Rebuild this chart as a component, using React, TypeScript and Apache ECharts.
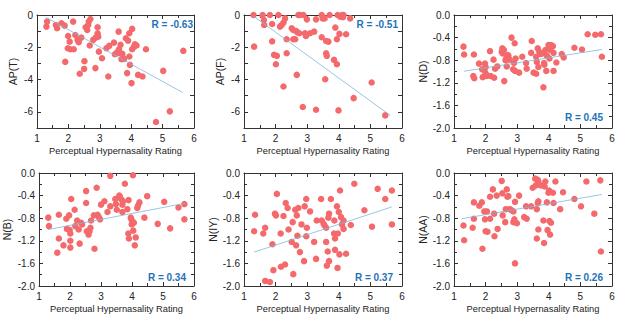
import React, { useEffect, useRef } from 'react';
import * as echarts from 'echarts';

const xAxisTitle = 'Perceptual Hypernasality Rating';
const panelNames = ['AP(T)', 'AP(F)', 'N(D)', 'N(B)', 'N(IY)', 'N(AA)'];
const rLabels = ['R = -0.63', 'R = -0.51', 'R = 0.45', 'R = 0.34', 'R = 0.37', 'R = 0.26'];
const xTickValues = [1, 2, 3, 4, 5, 6];

const apT: number[][] = [
  [1.30, -0.72], [1.32, -0.41], [1.60, -0.62], [1.64, -0.82], [1.78, -0.51], [1.88, -0.66],
  [1.99, -1.30], [2.04, -1.65], [1.98, -2.06], [2.06, -2.12], [1.90, -2.90], [2.15, -0.41],
  [2.17, -2.12], [2.22, -1.24], [2.29, -1.54], [2.33, -1.69], [2.41, -1.40], [2.36, -3.64],
  [2.51, -2.86], [2.50, -3.34], [2.55, -0.76], [2.60, -0.93], [2.63, -0.62], [2.65, -0.41],
  [2.70, -0.25], [2.68, -1.89], [2.79, -1.54], [2.87, -1.40], [2.86, -3.29], [2.93, -0.76],
  [2.93, -1.13], [2.95, -1.34], [2.97, -2.27], [3.07, -2.68], [3.27, -3.81], [3.21, -2.06],
  [3.30, -1.91], [3.45, -1.71], [3.48, -2.43], [3.55, -2.31], [3.60, -1.03], [3.61, -2.12],
  [3.64, -2.37], [3.66, -1.85], [3.69, -2.74], [3.72, -2.41], [3.77, -2.72], [3.83, -1.44],
  [3.87, -3.60], [3.90, -1.59], [3.94, -1.13], [3.94, -2.57], [3.96, -3.09], [4.01, -4.22],
  [4.03, -0.86], [4.03, -2.12], [4.09, -1.96], [4.12, -1.81], [4.17, -1.89], [4.22, -3.71],
  [4.36, -3.81], [4.47, -2.12], [4.79, -6.63], [5.02, -3.46], [5.23, -5.97], [5.66, -2.22],
];
const apF: number[][] = [
  [1.30, 0], [1.32, -1.96], [1.59, 0], [1.63, -0.31], [1.64, -0.62], [1.82, 0], [1.89, -0.56],
  [1.89, -1.63], [1.95, -2.47], [2.04, -2.53], [2.01, -3.05], [2.09, 0], [2.14, -0.72],
  [2.19, -0.62], [2.25, -0.47], [2.30, -0.21], [2.35, -1.50], [2.35, -2.37], [2.25, -4.43],
  [2.51, -0.82], [2.56, -0.93], [2.56, -1.50], [2.62, -1.50], [2.65, -0.99], [2.69, -1.07],
  [2.75, -1.13], [2.67, -3.71], [2.72, 0], [2.77, 0], [2.88, 0], [2.86, -5.70], [2.93, -1.13],
  [2.96, -1.30], [2.99, -0.27], [3.09, -1.13], [3.22, -1.03], [3.28, -0.27], [3.28, -5.87],
  [3.46, 0], [3.49, -0.21], [3.46, -1.38], [3.55, -0.21], [3.57, -3.98], [3.60, -1.61],
  [3.60, -2.37], [3.62, -2.53], [3.67, -1.65], [3.71, 0], [3.85, -2.78], [3.89, -0.78],
  [3.94, -1.50], [3.96, 0], [3.94, -3.05], [4.02, -1.17], [3.99, -5.91], [4.04, -0.10],
  [4.10, 0], [4.13, -0.14], [4.15, 0], [4.23, -1.19], [4.36, -0.21], [4.47, -5.15],
  [5.04, -4.18], [5.47, -6.22],
];
const nD: number[][] = [
  [1.30, -0.56], [1.32, -0.70], [1.63, -0.70], [1.61, -1.08], [1.64, -1.12], [1.79, -0.86],
  [1.89, -0.96], [1.91, -1.10], [1.96, -0.98], [1.98, -0.86], [2.00, -0.92], [2.01, -1.04],
  [2.04, -1.08], [2.14, -0.64], [2.16, -1.08], [2.25, -0.79], [2.27, -1.11], [2.30, -0.95],
  [2.37, -0.91], [2.51, -0.65], [2.53, -0.59], [2.54, -0.68], [2.58, -0.62], [2.59, -1.17],
  [2.63, -0.80], [2.65, -0.77], [2.67, -0.91], [2.70, -0.71], [2.72, -0.72], [2.76, -0.79],
  [2.82, -0.40], [2.87, -0.96], [2.90, -0.85], [2.92, -0.50], [2.93, -0.99], [2.95, -0.77],
  [3.06, -1.02], [3.16, -0.74], [3.28, -0.85], [3.30, -0.95], [3.44, -0.67], [3.46, -0.46],
  [3.52, -1.02], [3.60, -1.04], [3.60, -0.74], [3.62, -0.83], [3.65, -0.59], [3.67, -0.92],
  [3.70, -0.65], [3.74, -0.69], [3.79, -0.68], [3.85, -0.85], [3.86, -0.88], [3.83, -1.28],
  [3.89, -0.62], [3.92, -0.99], [3.94, -0.72], [3.99, -0.53], [4.02, -0.77], [4.04, -0.62],
  [4.07, -0.53], [4.13, -0.55], [4.15, -0.67], [4.15, -0.99], [4.24, -0.84], [4.41, -0.69],
  [4.47, -0.75], [4.81, -0.58], [5.05, -0.61], [5.23, -0.34], [5.47, -0.35], [5.65, -0.34],
  [5.68, -0.74],
];
const nB: number[][] = [
  [1.30, -0.79], [1.32, -0.94], [1.59, -1.41], [1.64, -1.16], [1.64, -0.74], [1.79, -1.28],
  [1.88, -0.81], [1.90, -0.99], [1.97, -0.75], [1.99, -1.01], [2.01, -1.07], [2.01, -1.32],
  [2.01, -1.20], [2.04, -0.46], [2.15, -0.65], [2.17, -0.94], [2.23, -0.84], [2.28, -1.00],
  [2.31, -1.25], [2.36, -0.88], [2.39, -0.91], [2.52, -0.32], [2.52, -0.53], [2.54, -1.03],
  [2.60, -1.09], [2.63, -1.03], [2.66, -0.97], [2.68, -0.84], [2.77, -0.75], [2.79, -1.34],
  [2.86, -0.26], [2.89, -0.74], [2.93, -0.78], [2.97, -0.82], [3.00, -0.56], [3.11, -0.50],
  [3.21, -0.69], [3.30, -0.59], [3.30, -0.05], [3.46, -0.46], [3.48, -0.55], [3.51, -0.65],
  [3.59, -0.40], [3.61, -0.42], [3.66, -0.47], [3.69, -0.56], [3.69, -0.69], [3.71, -0.50],
  [3.77, -0.19], [3.85, -0.64], [3.89, -0.48], [3.88, -1.07], [3.90, -1.16], [3.96, -0.79],
  [3.98, -0.82], [3.99, -0.91], [4.03, -0.87], [4.04, -1.02], [4.06, -0.88], [4.03, -0.04],
  [4.09, -1.28], [4.12, -1.14], [4.17, -0.62], [4.19, -0.58], [4.24, -0.52], [4.40, -0.79],
  [4.49, -0.41], [4.83, -0.90], [5.04, -0.51], [5.23, -0.98], [5.50, -0.61], [5.69, -0.55],
  [5.69, -0.82],
];
const nIY: number[][] = [
  [1.32, -1.03], [1.35, -0.74], [1.61, -1.07], [1.67, -0.97], [1.67, -1.91], [1.82, -1.93],
  [1.90, -1.26], [1.93, -1.72], [1.98, -0.72], [2.01, -0.75], [2.04, -0.37], [2.16, -1.07],
  [2.17, -1.66], [2.25, -0.76], [2.30, -1.62], [2.32, -0.53], [2.38, -0.62], [2.41, -1.00],
  [2.51, -1.22], [2.54, -0.87], [2.56, -1.79], [2.62, -0.65], [2.65, -1.28], [2.67, -0.75],
  [2.69, -1.11], [2.72, -0.62], [2.77, -1.40], [2.82, -0.91], [2.90, -1.56], [2.92, -0.59],
  [2.97, -0.46], [2.97, -1.12], [2.99, -0.97], [3.09, -0.68], [3.22, -1.22], [3.28, -1.52],
  [3.30, -0.84], [3.44, -0.46], [3.46, -0.84], [3.52, -0.90], [3.55, -0.93], [3.60, -0.97],
  [3.60, -1.22], [3.62, -1.64], [3.65, -1.39], [3.67, -0.79], [3.69, -0.72], [3.69, -1.56],
  [3.75, -0.46], [3.85, -1.07], [3.86, -0.84], [3.88, -1.16], [3.88, -1.36], [3.94, -0.59],
  [3.96, -1.68], [3.97, -1.07], [4.00, -0.69], [4.02, -1.44], [4.04, -0.31], [4.07, -0.78],
  [4.10, -0.91], [4.15, -0.84], [4.15, -0.99], [4.23, -1.43], [4.38, -0.92], [4.49, -0.19],
  [4.81, -0.66], [5.05, -0.95], [5.23, -0.28], [5.47, -0.46], [5.68, -0.31], [5.68, -0.91],
];
const nAA: number[][] = [
  [1.30, -0.93], [1.32, -1.19], [1.59, -0.97], [1.63, -0.52], [1.63, -0.81], [1.80, -0.58],
  [1.88, -0.52], [1.90, -1.34], [1.96, -0.68], [1.98, -0.82], [2.00, -1.03], [2.04, -0.68],
  [2.06, -1.04], [2.14, -0.81], [2.14, -0.42], [2.23, -0.29], [2.27, -0.72], [2.28, -1.12],
  [2.35, -0.40], [2.38, -0.99], [2.51, -0.14], [2.53, -0.36], [2.54, -0.75], [2.62, -0.87],
  [2.64, -0.64], [2.67, -0.29], [2.69, -0.42], [2.72, -0.41], [2.77, -0.64], [2.82, -0.66],
  [2.88, -0.68], [2.88, -0.87], [2.91, -0.82], [2.93, -0.51], [2.93, -1.60], [2.99, -0.89],
  [3.06, -0.40], [3.22, -0.78], [3.28, -0.59], [3.30, -0.81], [3.44, -0.59], [3.49, -0.26],
  [3.57, -0.10], [3.59, -0.22], [3.62, -0.64], [3.62, -1.16], [3.65, -0.12], [3.67, -0.15],
  [3.65, -0.53], [3.67, -0.50], [3.67, -1.00], [3.75, -0.22], [3.83, -0.84], [3.85, -1.24],
  [3.89, -0.15], [3.87, -0.24], [3.94, -0.52], [3.96, -1.01], [3.99, -0.35], [4.01, -0.31],
  [4.02, -0.85], [4.04, -1.09], [4.07, -0.88], [4.13, -0.35], [4.15, -0.53], [4.21, -0.15],
  [4.36, -0.64], [4.45, -0.34], [4.81, -0.46], [5.02, -0.59], [5.19, -0.15], [5.44, -0.72],
  [5.63, -0.13], [5.65, -1.39],
];

const fitAPT = [[1.28, -0.14], [5.64, -4.80]];
const fitAPF = [[1.29, -0.06], [5.63, -6.22]];
const fitND = [[1.32, -0.995], [5.68, -0.61]];
const fitNB = [[1.30, -1.0], [5.71, -0.536]];
const fitNIY = [[1.32, -1.40], [5.68, -0.60]];
const fitNAA = [[1.24, -0.81], [5.68, -0.38]];

const scatterData = [apT, apF, nD, nB, nIY, nAA];
const fitData = [fitAPT, fitAPF, fitND, fitNB, fitNIY, fitNAA];

const FONT = 'Liberation Sans, Arial, sans-serif';
const POINT = '#f4696c';
const LINE = '#7db8de';
const RCOL = '#1f72b8';
const AXIS = '#333333';

export default function App() {
  const ref = useRef<HTMLDivElement>(null);
  useEffect(() => {
    if (!ref.current) return;
    const chart = echarts.init(ref.current, undefined, { renderer: 'svg' });
    const lefts = [37, 244, 454];
    const tops = [15, 173];
    const nameGaps = [19, 19, 25, 27, 24, 24];
    const rPos = [
      [193, 24], [398, 24], [603, 117], [186, 277], [393, 277], [603, 277],
    ];
    const grids: any[] = [];
    const xAxes: any[] = [];
    const yAxes: any[] = [];
    const series: any[] = [];
    const graphics: any[] = [];
    for (let i = 0; i < 6; i++) {
      const col = i % 3;
      const row = Math.floor(i / 3);
      const isAP = i < 2;
      grids.push({ left: lefts[col], top: tops[row], width: col === 0 ? 157 : 158, height: 113, containLabel: false });
      const xBase = {
        type: 'value', gridIndex: i, min: 1, max: 6, interval: 1,
        axisLine: { show: true, onZero: false, lineStyle: { color: AXIS, width: 1 } },
        axisTick: { show: true, inside: true, length: 4, lineStyle: { color: AXIS } },
        minorTick: { show: true, splitNumber: 2, length: 3, lineStyle: { color: AXIS } },
        splitLine: { show: false },
        minorSplitLine: { show: false },
      };
      xAxes.push({
        ...xBase, position: 'bottom',
        axisLabel: { show: true, margin: 5, fontSize: 10, color: '#222', fontFamily: FONT },
        name: xAxisTitle, nameLocation: 'middle', nameGap: 18,
        nameTextStyle: { fontSize: 9.3, color: '#222', fontFamily: FONT },
      });
      xAxes.push({ ...xBase, position: 'top', axisLabel: { show: false } });
      const yBase = isAP
        ? {
            type: 'value', gridIndex: i, min: -7, max: 0, interval: 1,
            minorTick: { show: false },
          }
        : {
            type: 'value', gridIndex: i, min: -2, max: 0, interval: 0.4,
            minorTick: { show: true, splitNumber: 2, length: 3, lineStyle: { color: AXIS } },
          };
      const yCommon = {
        ...yBase,
        axisLine: { show: true, onZero: false, lineStyle: { color: AXIS, width: 1 } },
        axisTick: { show: true, inside: true, length: 4, lineStyle: { color: AXIS } },
        splitLine: { show: false },
        minorSplitLine: { show: false },
      };
      yAxes.push({
        ...yCommon, position: 'left',
        axisLabel: {
          show: true, margin: 4, fontSize: 10, color: '#222', fontFamily: FONT,
          formatter: (v: number) => {
            if (isAP) {
              const r = Math.round(v);
              return r % 2 === 0 ? String(r) : '';
            }
            const s = v.toFixed(1);
            return s === '-0.0' ? '0.0' : s;
          },
        },
        name: panelNames[i], nameLocation: 'middle', nameGap: nameGaps[i], nameRotate: 90,
        nameTextStyle: { fontSize: 10.5, color: '#222', fontFamily: FONT },
      });
      yAxes.push({ ...yCommon, position: 'right', axisLabel: { show: false } });
      series.push({
        type: 'scatter', xAxisIndex: 2 * i, yAxisIndex: 2 * i,
        data: scatterData[i], symbolSize: 6.5,
        itemStyle: { color: POINT, opacity: 1 },
        silent: true, z: 2,
      });
      series.push({
        type: 'line', xAxisIndex: 2 * i, yAxisIndex: 2 * i,
        data: fitData[i], symbol: 'none',
        lineStyle: { color: LINE, width: 0.8 },
        silent: true, z: 3,
      });
      graphics.push({
        type: 'text', x: rPos[i][0], y: rPos[i][1], z: 10,
        style: {
          text: rLabels[i], fill: RCOL, textAlign: 'right', textVerticalAlign: 'middle',
          font: `bold 10px ${FONT}`,
        },
      });
    }
    chart.setOption({
      animation: false,
      backgroundColor: '#ffffff',
      grid: grids,
      xAxis: xAxes,
      yAxis: yAxes,
      series,
      graphic: graphics,
    });
    return () => chart.dispose();
  }, []);
  return (
    <div
      ref={ref}
      style={{ position: 'fixed', left: 0, top: 0, width: 642, height: 322, background: '#fff' }}
    />
  );
}
